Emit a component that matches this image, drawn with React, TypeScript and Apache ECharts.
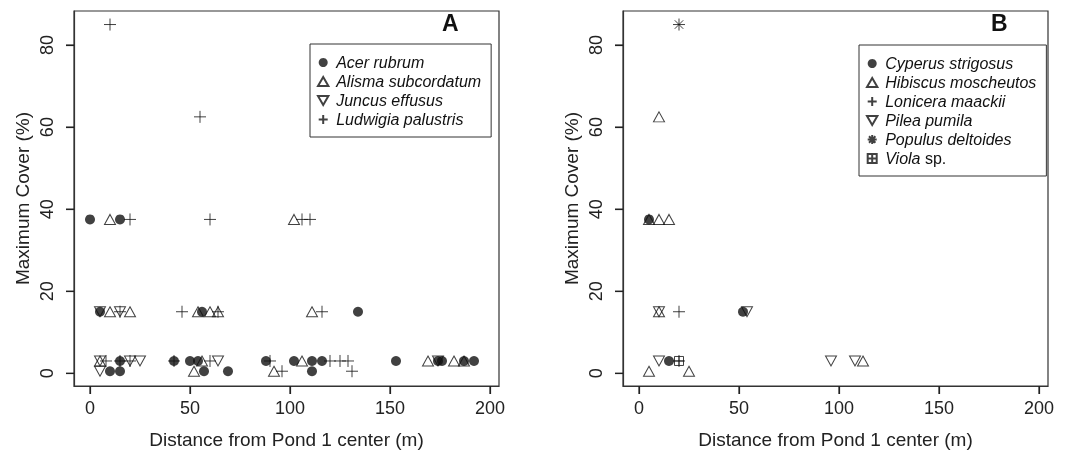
import React, { useEffect, useRef } from "react";
import * as echarts from "echarts";

// Panel A (distance m, max cover %)
const acerRubrum = [[0,37.5],[15,37.5],[5,15],[56,15],[134,15],[15,3],[42,3],[50,3],[54,3],[88,3],[102,3],[111,3],[116,3],[153,3],[174,3],[176,3],[187,3],[192,3],[10,0.5],[15,0.5],[57,0.5],[69,0.5],[111,0.5]];
const alismaSubcordatum = [[10,37.5],[102,37.5],[10,15],[20,15],[54,15],[60,15],[64,15],[111,15],[5,3],[56,3],[106,3],[169,3],[182,3],[187,3],[52,0.5],[92,0.5]];
const juncusEffusus = [[5,15],[15,15],[5,3],[20,3],[25,3],[64,3],[174,3],[5,0.5]];
const ludwigiaPalustris = [[10,85],[55,62.5],[20,37.5],[60,37.5],[106,37.5],[110,37.5],[15,15],[46,15],[64,15],[116,15],[8,3],[15,3],[20,3],[42,3],[60,3],[90,3],[120,3],[125,3],[129,3],[96,0.5],[131,0.5]];

// Panel B
const cyperusStrigosus = [[5,37.5],[52,15],[15,3]];
const hibiscusMoscheutos = [[10,62.5],[5,37.5],[10,37.5],[15,37.5],[10,15],[112,3],[5,0.5],[25,0.5]];
const loniceraMaackii = [[20,15],[20,3]];
const pileaPumila = [[10,15],[54,15],[10,3],[96,3],[108,3]];
const populusDeltoides = [[20,85]];
const violaSp = [[20,3]];

const xTicks = [0, 50, 100, 150, 200];
const yTicks = [0, 20, 40, 60, 80];

const X_MIN = -8;
const X_MAX = 204.5;
const Y_MIN = -3.1;
const Y_MAX = 88.3;

const FONT = '"Liberation Sans", Arial, Helvetica, sans-serif';
const INK = "#111";
const CLEAR = "rgba(0,0,0,0)";
const TICK_LEN = 8;

const SYM: Record<string, any> = {
  circle: { symbol: "circle", symbolSize: 10, itemStyle: { color: INK } },
  up: { symbol: "path://M5,0 L10,8.66 L0,8.66 Z", symbolSize: [11, 10], itemStyle: { color: CLEAR, borderColor: INK, borderWidth: 1 } },
  down: { symbol: "path://M0,0 L10,0 L5,8.66 Z", symbolSize: [11, 10], itemStyle: { color: CLEAR, borderColor: INK, borderWidth: 1 } },
  plus: { symbol: "path://M0,5 L10,5 M5,0 L5,10", symbolSize: 12, itemStyle: { color: CLEAR, borderColor: INK, borderWidth: 1 } },
  star: { symbol: "path://M0,5 L10,5 M5,0 L5,10 M1.46,1.46 L8.54,8.54 M1.46,8.54 L8.54,1.46", symbolSize: 12, itemStyle: { color: CLEAR, borderColor: INK, borderWidth: 1 } },
  boxplus: { symbol: "path://M0,0 L10,0 L10,10 L0,10 Z M5,0 L5,10 M0,5 L10,5", symbolSize: 9, itemStyle: { color: CLEAR, borderColor: INK, borderWidth: 1 } },
};

function scatter(name: string, data: number[][], kind: string, idx: number) {
  return {
    type: "scatter",
    name,
    data,
    xAxisIndex: idx,
    yAxisIndex: idx,
    ...SYM[kind],
    emphasis: { disabled: true },
    silent: true,
  };
}

// Outward tick marks, positioned through the axes' own scales
function tickSeries(idx: number, dir: "x" | "y") {
  const data = dir === "x" ? xTicks.map((v) => [v, Y_MIN]) : yTicks.map((v) => [X_MIN, v]);
  return {
    type: "custom",
    name: `ticks-${dir}-${idx}`,
    xAxisIndex: idx,
    yAxisIndex: idx,
    silent: true,
    clip: false,
    z: 10,
    data,
    renderItem: (_p: any, api: any) => {
      const pt = api.coord([api.value(0), api.value(1)]);
      const shape =
        dir === "x"
          ? { x1: pt[0], y1: pt[1], x2: pt[0], y2: pt[1] + TICK_LEN }
          : { x1: pt[0], y1: pt[1], x2: pt[0] - TICK_LEN, y2: pt[1] };
      return { type: "line", shape, style: { stroke: "#222", lineWidth: 1.2 } };
    },
  };
}

function xAxis(idx: number) {
  return {
    type: "value",
    gridIndex: idx,
    min: X_MIN,
    max: X_MAX,
    name: "Distance from Pond 1 center (m)",
    nameLocation: "middle",
    nameGap: 44,
    nameTextStyle: { fontFamily: FONT, fontSize: 19, color: "#222" },
    axisLine: { show: true, onZero: false, lineStyle: { color: "#333", width: 1.2 } },
    splitLine: { show: false },
    axisTick: { show: true, inside: false, length: TICK_LEN, customValues: xTicks, lineStyle: { color: "#222", width: 1.2 } },
    axisLabel: { customValues: xTicks, margin: 13, fontFamily: FONT, fontSize: 18, color: "#222" },
  };
}

function yAxis(idx: number) {
  return {
    type: "value",
    gridIndex: idx,
    min: Y_MIN,
    max: Y_MAX,
    name: "Maximum Cover (%)",
    nameLocation: "middle",
    nameRotate: 90,
    nameGap: 42,
    nameTextStyle: { fontFamily: FONT, fontSize: 19, color: "#222" },
    axisLine: { show: true, onZero: false, lineStyle: { color: "#333", width: 1.2 } },
    splitLine: { show: false },
    axisTick: { show: true, inside: false, length: TICK_LEN, customValues: yTicks, lineStyle: { color: "#222", width: 1.2 } },
    axisLabel: { customValues: yTicks, rotate: 90, margin: 18, fontFamily: FONT, fontSize: 18, color: "#222" },
  };
}

const legendText = {
  fontFamily: FONT,
  fontSize: 16,
  color: INK,
  lineHeight: 19,
  rich: { i: { fontFamily: FONT, fontSize: 16, fontStyle: "italic", color: INK, lineHeight: 19 } },
};

function legend(names: string[], left: number, top: number) {
  return {
    data: names,
    orient: "vertical",
    left,
    top,
    itemWidth: 16,
    itemHeight: 9,
    itemGap: 0,
    padding: [9, 10, 8, 7],
    borderColor: "#333",
    borderWidth: 1,
    selectedMode: false,
    textStyle: legendText,
    formatter: (n: string) => (n === "Viola sp." ? "{i|Viola} sp." : `{i|${n}}`),
  };
}

export default function App() {
  const ref = useRef<HTMLDivElement>(null);
  useEffect(() => {
    if (!ref.current) return;
    const chart = echarts.init(ref.current, null, { renderer: "svg" });
    chart.setOption({
      animation: false,
      grid: [
        { left: 74, top: 11, width: 425, height: 376, show: true, borderColor: "#333", borderWidth: 1.2, backgroundColor: CLEAR },
        { left: 623, top: 11, width: 425, height: 376, show: true, borderColor: "#333", borderWidth: 1.2, backgroundColor: CLEAR },
      ],
      xAxis: [xAxis(0), xAxis(1)],
      yAxis: [yAxis(0), yAxis(1)],
      legend: [
        legend(["Acer rubrum", "Alisma subcordatum", "Juncus effusus", "Ludwigia palustris"], 310, 44),
        legend(["Cyperus strigosus", "Hibiscus moscheutos", "Lonicera maackii", "Pilea pumila", "Populus deltoides", "Viola sp."], 859, 45),
      ],
      graphic: [
        { type: "text", left: 442, top: 11, style: { text: "A", fontFamily: FONT, fontSize: 23, fontWeight: "bold", fill: INK } },
        { type: "text", left: 991, top: 11, style: { text: "B", fontFamily: FONT, fontSize: 23, fontWeight: "bold", fill: INK } },
      ],
      series: [
        tickSeries(0, "x"),
        tickSeries(0, "y"),
        tickSeries(1, "x"),
        tickSeries(1, "y"),
        scatter("Acer rubrum", acerRubrum, "circle", 0),
        scatter("Alisma subcordatum", alismaSubcordatum, "up", 0),
        scatter("Juncus effusus", juncusEffusus, "down", 0),
        scatter("Ludwigia palustris", ludwigiaPalustris, "plus", 0),
        scatter("Cyperus strigosus", cyperusStrigosus, "circle", 1),
        scatter("Hibiscus moscheutos", hibiscusMoscheutos, "up", 1),
        scatter("Lonicera maackii", loniceraMaackii, "plus", 1),
        scatter("Pilea pumila", pileaPumila, "down", 1),
        scatter("Populus deltoides", populusDeltoides, "star", 1),
        scatter("Viola sp.", violaSp, "boxplus", 1),
      ],
    });
    return () => chart.dispose();
  }, []);
  return <div ref={ref} style={{ position: "fixed", left: 0, top: 0, width: 1067, height: 454 }} />;
}
